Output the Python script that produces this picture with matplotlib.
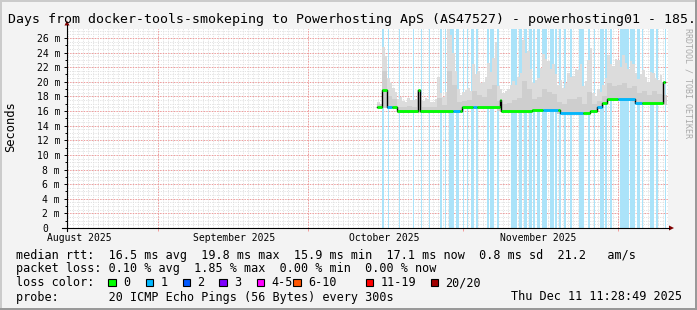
import matplotlib
matplotlib.use("Agg")
import matplotlib.pyplot as plt
import numpy as np
from matplotlib.patches import Rectangle, Polygon

# ---- data (x in days from left edge of graph, y in ms) ----
month_labels = ["August 2025", "September 2025", "October 2025", "November 2025"]
month_label_pos = [2.4, 33.4, 63.4, 94.3]
month_lines = [18.2, 48.2, 79.2, 110.2]

ytick_vals = list(range(0, 27, 2))

# median rtt steps: start day, value, loss class
med_x = [62.0, 63.0, 64.0, 65.0, 66.0, 70.2, 70.5, 77.2, 78.6, 79.0, 81.2, 82.0,
         86.6, 86.8, 93.0, 95.2, 98.2, 98.6, 103.2, 104.6, 106.0, 107.0, 108.0,
         110.2, 113.6, 115.0, 119.2]
med_v = [16.5, 18.9, 16.5, 16.5, 16.0, 18.9, 16.0, 16.0, 16.0, 16.5, 16.5, 16.5,
         17.5, 16.0, 16.2, 16.2, 16.2, 15.8, 15.8, 16.0, 16.5, 17.05, 17.7,
         17.7, 17.05, 17.05, 20.0]
med_loss = [0, 0, 1, 0, 0, 0, 0, 1, 0, 0, 1, 0,
            0, 0, 0, 1, 0, 1, 0, 0, 1, 0, 0,
            1, 1, 0, 0]
med_end = 119.6

# smoke: outer top per half day, starting day 62
smoke_top = [17.3, 17.0, 24.8, 23.5, 20.5, 19.8, 19.2, 18.6, 17.6, 17.9,
             17.4, 17.2, 17.8, 17.5, 17.5, 17.7, 18.9, 18.2, 17.4, 17.8,
             17.6, 17.3, 17.3, 17.6, 20.6, 18.4, 17.9, 18.6, 27.2, 26.4,
             24.0, 21.5, 19.0, 18.2, 18.6, 18.9, 19.1, 18.7, 22.4, 21.0,
             21.5, 19.8, 20.0, 20.7, 22.6, 21.4, 23.3, 25.5, 19.4, 19.0,
             18.4, 18.8, 19.0, 19.6, 20.1, 19.5, 20.6, 21.2, 25.7, 24.0,
             24.2, 21.8, 19.8, 20.3, 20.5, 21.9, 23.8, 23.1, 22.8, 21.7,
             22.4, 21.0, 19.6, 20.2, 19.2, 19.8, 21.2, 20.6, 20.8, 21.8,
             21.6, 22.4, 19.4, 20.1, 23.0, 24.6, 18.4, 18.0, 19.0, 18.6,
             19.6, 20.5, 23.6, 22.4, 22.2, 23.1, 23.0, 22.0, 23.7, 22.6,
             21.8, 22.9, 22.4, 21.2, 20.4, 21.0, 21.6, 20.7, 20.0, 21.3,
             21.2, 20.5, 20.3, 20.9, 20.0]
# inner (darker) smoke and smoke bottom, per day from day 62
smoke_mid = [16.9, 21.5, 18.0, 17.6, 16.6, 16.5, 16.7, 16.6, 17.5, 16.5,
             16.6, 16.5, 17.8, 16.8, 21.5, 19.5, 17.2, 17.4, 17.5, 18.8,
             18.2, 17.9, 19.0, 19.6, 17.4, 16.9, 17.1, 17.5, 17.8, 20.1,
             19.0, 17.6, 17.9, 19.0, 18.6, 18.3, 17.3, 16.9, 17.7, 17.6,
             17.9, 17.0, 18.6, 16.9, 17.4, 18.0, 19.8, 19.4, 19.6, 19.9,
             19.2, 19.4, 18.4, 18.8, 18.2, 18.7, 18.3, 18.2]
smoke_low = [16.4, 16.4, 16.3, 16.3, 15.8, 15.8, 15.8, 15.8, 15.8, 15.8,
             15.8, 15.8, 15.8, 15.8, 15.8, 15.8, 15.8, 16.3, 16.3, 16.3,
             16.3, 16.3, 16.3, 16.3, 16.0, 15.8, 15.8, 15.8, 15.8, 15.8,
             15.8, 16.0, 16.0, 16.0, 16.0, 16.0, 15.6, 15.6, 15.6, 15.6,
             15.6, 15.6, 15.8, 15.9, 16.3, 16.8, 17.4, 17.4, 17.4, 17.4,
             17.4, 17.3, 16.8, 16.8, 16.8, 16.8, 16.8, 16.8]
smoke_day0 = 62

# packet loss stripes (start, end day)
loss_start = [63.0, 64.1, 66.3, 69.1, 70.7, 72.4, 74.6, 75.5, 76.3, 77.8, 79.1, 79.9,
              80.7, 81.7, 83.9, 84.6, 85.9, 88.8, 90.3, 91.3, 92.3, 93.1, 93.9,
              94.9, 96.6, 97.6, 98.3, 99.3, 100.6, 102.3, 104.1, 105.3, 106.5,
              107.6, 108.6, 110.5, 112.5, 113.9, 114.9, 116.6, 117.8, 119.5]
loss_end = [63.3, 64.4, 66.5, 69.3, 70.9, 72.6, 74.9, 75.7, 77.4, 78.3, 79.3, 80.1,
            81.3, 82.2, 84.3, 85.4, 86.3, 89.9, 90.9, 91.9, 92.9, 93.6, 94.6,
            95.9, 97.4, 97.9, 98.7, 99.8, 100.9, 103.3, 104.5, 105.6, 107.3,
            107.9, 108.9, 112.3, 113.6, 114.6, 115.1, 117.3, 118.1, 119.7]

loss_names = ["0", "1", "2", "3", "4-5", "6-10", "11-19", "20/20"]
loss_colors = ["#00ff00", "#00b8ff", "#0059ff", "#7e00ff",
               "#ff00ff", "#ff5500", "#ff0000", "#a10000"]

title = "Days from docker-tools-smokeping to Powerhosting ApS (AS47527) - powerhosting01 - 185."
legend_rtt = "median rtt:  16.5 ms avg  19.8 ms max  15.9 ms min  17.1 ms now  0.8 ms sd  21.2   am/s"
legend_loss = "packet loss: 0.10 % avg  1.85 % max  0.00 % min  0.00 % now"
probe_text = "probe:       20 ICMP Echo Pings (56 Bytes) every 300s"
date_text = "Thu Dec 11 11:28:49 2025"

# ---- figure ----
W, H = 697, 310
MONO = "DejaVu Sans Mono"
fig = plt.figure(figsize=(W / 100, H / 100), dpi=100, facecolor="#f3f3f3")

cx0, cx1, cy0, cy1 = 67, 668, 28.5, 228
ax = fig.add_axes([cx0 / W, 1 - cy1 / H, (cx1 - cx0) / W, (cy1 - cy0) / H])
ax.set_facecolor("white")
xmax = (cx1 - cx0) / 5.0
ymax = (cy1 - cy0) / 7.31
ax.set_xlim(0, xmax)
ax.set_ylim(0, ymax)
for s in ax.spines.values():
    s.set_visible(False)

# grid
dot = (0, (1.4, 1.4))
ax.vlines(np.arange(0.2, xmax, 1.0), 0, ymax, colors="#dedede", linestyles=dot, lw=0.6, zorder=0)
ax.hlines(np.arange(0.5, ymax, 0.5), 0, xmax, colors="#dedede", linestyles=dot, lw=0.6, zorder=0)
ax.hlines(ytick_vals[1:], 0, xmax, colors="#f29a9a", linestyles=dot, lw=0.7, zorder=1)
ax.vlines(month_lines, 0, ymax, colors="#f29a9a", linestyles=dot, lw=0.7, zorder=1)

# loss stripes
for s, e in zip(loss_start, loss_end):
    ax.axvspan(s, e, color="#abe3f9", lw=0, zorder=2)

# smoke
half_x = smoke_day0 + 0.5 * np.arange(len(smoke_top))
low_half = np.repeat(smoke_low, 2)[:len(smoke_top)]
ax.bar(half_x, np.array(smoke_top) - low_half, bottom=low_half, width=0.5,
       align="edge", color="#dcdcdc", lw=0, zorder=3)
day_x = smoke_day0 + np.arange(len(smoke_mid))
ax.bar(day_x, np.array(smoke_mid) - np.array(smoke_low), bottom=smoke_low, width=1.0,
       align="edge", color="#cecece", lw=0, zorder=3)

# median
xs = med_x + [med_end]
ax.step(xs, med_v + [med_v[-1]], where="post", color="black", lw=1.0, zorder=4)
for i in range(len(med_v)):
    ax.hlines(med_v[i], xs[i], xs[i + 1], colors=loss_colors[med_loss[i]], lw=2.0, zorder=5)

# ticks
ax.set_xticks(month_label_pos, month_labels, fontsize=7, family=MONO)
ax.tick_params(axis="x", length=0, pad=3.5)
ax.set_xticks(month_lines, minor=True)
ax.tick_params(axis="x", which="minor", length=2.5, color="#f29a9a", width=0.7)
ax.set_yticks(ytick_vals, [""] * len(ytick_vals))
ax.set_yticks(range(1, 27, 2), minor=True)
ax.tick_params(axis="y", which="major", length=2.5, width=0.7, color="black")
ax.tick_params(axis="y", which="minor", length=1.5, width=0.7, color="black")
for v in ytick_vals:
    lab = "0" if v == 0 else "%d m" % v
    off = -13.5 if v == 0 else -5.0
    ax.annotate(lab, xy=(0, v), xycoords=ax.get_yaxis_transform(), xytext=(off, 0),
                textcoords="offset points", ha="right", va="center_baseline",
                fontsize=7, family=MONO, annotation_clip=False)

# ---- overlay in pixel coordinates ----
ov = fig.add_axes([0, 0, 1, 1], zorder=5)
ov.set_xlim(0, W)
ov.set_ylim(H, 0)
ov.axis("off")
ov.patch.set_alpha(0)

# frame
ov.add_patch(Rectangle((0, 0), W, 1.5, color="#cbcbcb", lw=0))
ov.add_patch(Rectangle((0, 0), 1.5, H, color="#cbcbcb", lw=0))
ov.add_patch(Rectangle((0, H - 2), W, 2, color="#999999", lw=0))
ov.add_patch(Rectangle((W - 2, 0), 2, H, color="#999999", lw=0))

# axes lines + arrows
ov.plot([cx0, cx0], [231, 25], color="black", lw=0.8)
ov.plot([62, 669], [cy1, cy1], color="black", lw=0.8)
ov.add_patch(Polygon([[64.5, 25.5], [69.5, 25.5], [67, 20.5]], closed=True, color="#7f0000", lw=0))
ov.add_patch(Polygon([[669, 225.5], [669, 230.5], [674, 228]], closed=True, color="#7f0000", lw=0))

ov.text(688, 28, "RRDTOOL / TOBI OETIKER", rotation=270, ha="center", va="top",
        fontsize=6, family=MONO, color="#aaaaaa")
ov.text(8, 23, title, ha="left", va="baseline", fontsize=9.5, family=MONO, color="black")
ov.text(11, 127, "Seconds", rotation=90, ha="center", va="center", fontsize=8.7, family=MONO)

ov.text(16, 258.5, legend_rtt, ha="left", va="baseline", fontsize=8.5, family=MONO)
ov.text(16, 272.3, legend_loss, ha="left", va="baseline", fontsize=8.5, family=MONO)
ov.text(16, 286.5, "loss color:", ha="left", va="baseline", fontsize=8.5, family=MONO)
box_x = [108.3, 145.7, 182.7, 219.3, 256.7, 293.3, 365.7, 430.7]
for bx, name, col in zip(box_x, loss_names, loss_colors):
    ov.add_patch(Rectangle((bx, 278.5), 7.6, 7.6, facecolor=col, edgecolor="black", lw=0.8))
    ov.text(bx + 14.5, 286.5, name, ha="left", va="baseline", fontsize=8.5, family=MONO)
ov.text(16, 300.5, probe_text, ha="left", va="baseline", fontsize=8.5, family=MONO)
ov.text(511, 300.5, date_text, ha="left", va="baseline", fontsize=8.5, family=MONO)

fig.savefig("out.png", dpi=100, facecolor=fig.get_facecolor())
